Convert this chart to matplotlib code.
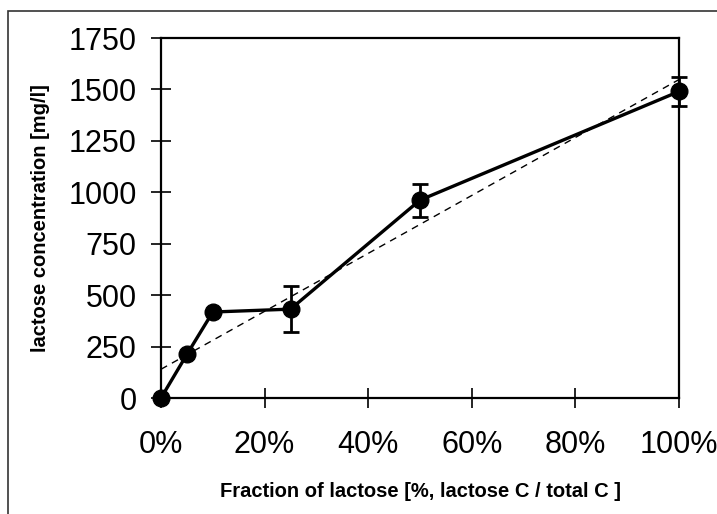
import matplotlib.pyplot as plt
import numpy as np
from matplotlib.patches import Rectangle
from matplotlib.ticker import PercentFormatter

plt.rcParams['font.family'] = ['Liberation Sans', 'DejaVu Sans']

# fraction of lactose (as fraction of total C) and measured concentration
fraction = [0.0, 0.05, 0.10, 0.25, 0.50, 1.00]
lactose = [0, 212, 418, 432, 962, 1490]
lactose_err = [0, 0, 0, 112, 80, 72]
y_ticks = [0, 250, 500, 750, 1000, 1250, 1500, 1750]
x_ticks = [0.0, 0.2, 0.4, 0.6, 0.8, 1.0]

fig = plt.figure(figsize=(7.17, 5.14), dpi=100)
ax = fig.add_axes([161 / 717, 1 - 398 / 514, 518 / 717, 360 / 514])

# outer frame of the original figure
fig.patches.append(Rectangle((8 / 717, -0.05), 1.1, 1 - 11 / 514 + 0.05,
                             transform=fig.transFigure, fill=False,
                             edgecolor='#333333', linewidth=1.2))

# linear regression (dashed)
slope, intercept = np.polyfit(fraction, lactose, 1)
xf = np.array([0.0, 1.0])
ax.plot(xf, slope * xf + intercept, color='black', linestyle=(0, (5, 4)),
        linewidth=1.0, zorder=2)

ax.errorbar(fraction, lactose, yerr=lactose_err, color='black', marker='o',
            markersize=12, linewidth=2.4, elinewidth=2.0, capsize=6,
            capthick=2.0, zorder=3, clip_on=False)

ax.set_xlim(0, 1)
ax.set_ylim(0, 1750)
ax.set_xticks(x_ticks)
ax.set_yticks(y_ticks)
ax.xaxis.set_major_formatter(PercentFormatter(1.0, decimals=0))

for side in ['left', 'right', 'top', 'bottom']:
    ax.spines[side].set_linewidth(1.6)
ax.tick_params(axis='both', direction='inout', length=14, width=1.2,
               labelsize=22)
ax.tick_params(axis='x', pad=16)
ax.tick_params(axis='y', pad=10.5)

ax.set_xlabel('Fraction of lactose [%, lactose C / total C ]',
              fontsize=14.5, fontweight='bold', labelpad=16)
ax.set_ylabel('lactose concentration [mg/l]', fontsize=14.5,
              fontweight='bold', labelpad=13)

fig.savefig('out.png', dpi=100)
